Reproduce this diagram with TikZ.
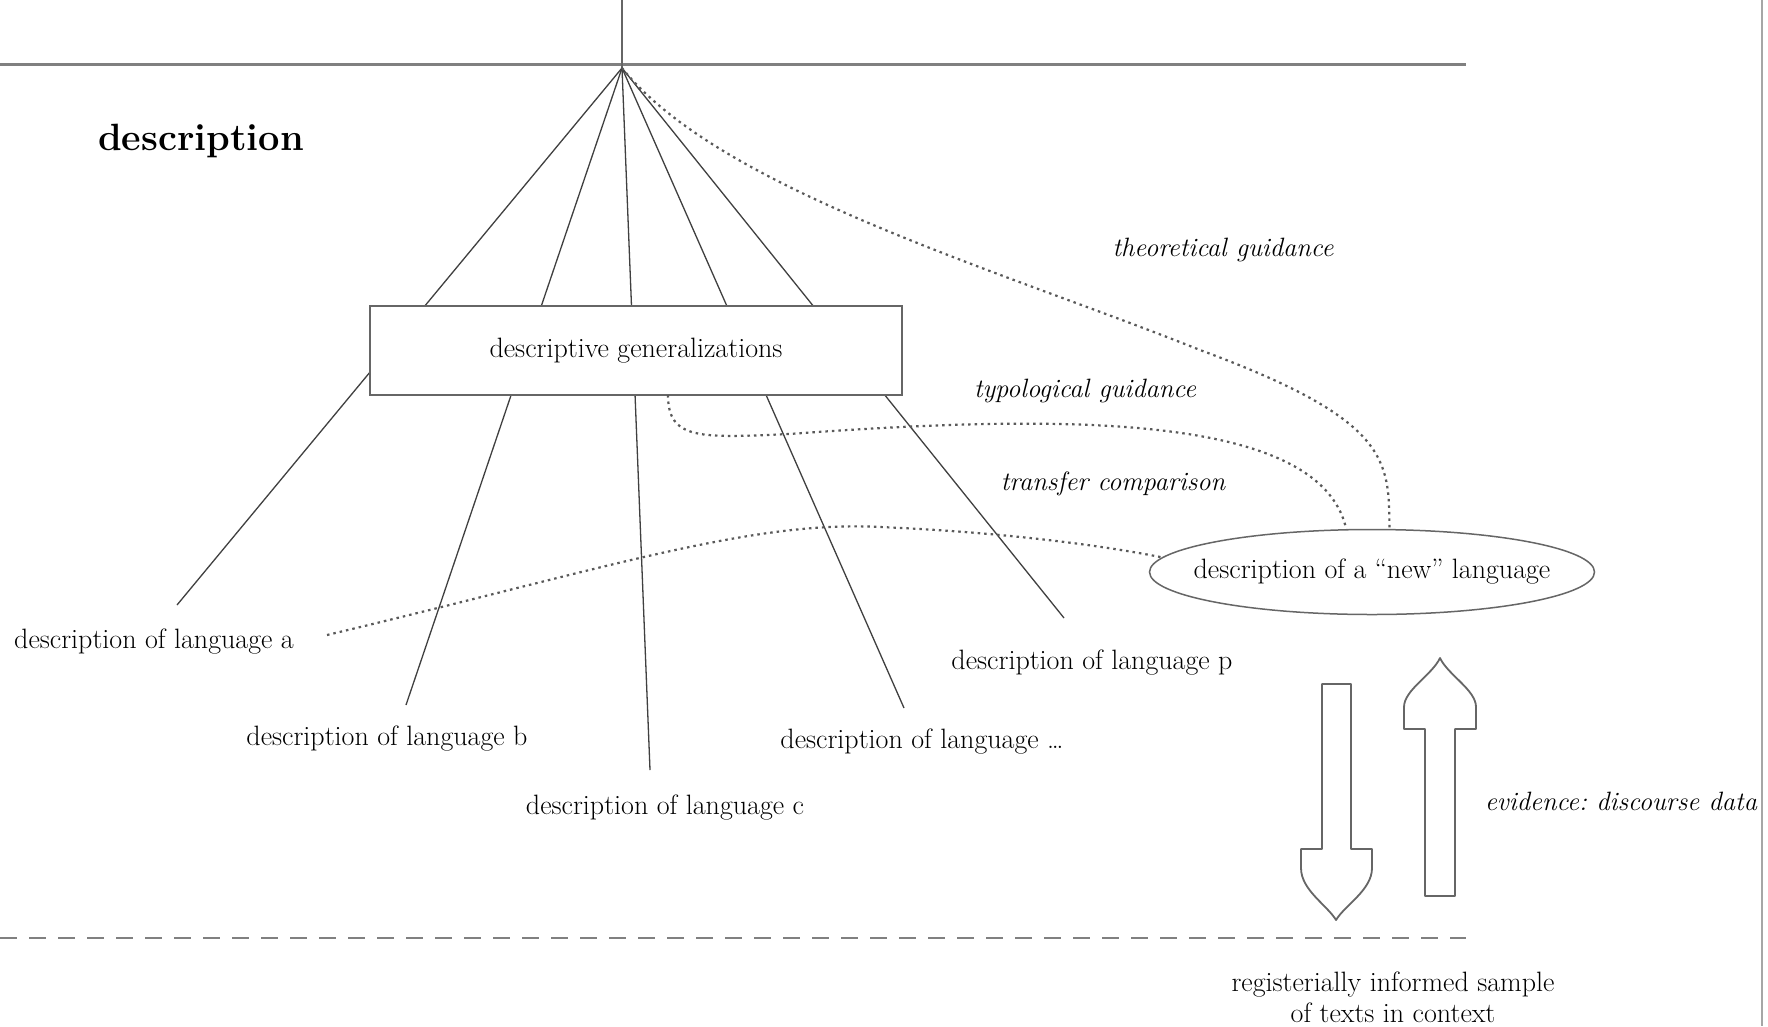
\documentclass[tikz,border=0pt]{standalone}
\usetikzlibrary{shapes.geometric}
\frenchspacing
\begin{document}
\begin{tikzpicture}[x=1pt,y=-1pt,
  lbl/.style={font=\fontsize{28}{31}\selectfont, inner sep=0pt},
  ilbl/.style={font=\fontsize{26.5}{30}\selectfont\itshape, inner sep=0pt},
  ray/.style={draw=black!75, line width=1.3pt},
  guide/.style={draw=black!65, line width=2.2pt, dash pattern=on 2.5pt off 4pt},
  fat/.style={draw=black!60, line width=1.8pt, fill=white, line join=round}]
\useasboundingbox (0,0) rectangle (1768,1026);
\fill[white] (0,0) rectangle (1768,1026);

% level lines and frame edge
\draw[black!50, line width=3pt] (0,64) -- (1466,64);
\draw[black!50, line width=2.5pt, dash pattern=on 17pt off 12pt] (0,938) -- (1466,938);
\draw[black!35, line width=2pt] (1762,0) -- (1762,1026);

% fan point
\coordinate (top) at (622,0);
\coordinate (apex) at (622,68);
\draw[black!60, line width=1.3pt] (top) -- (apex);

\node[font=\fontsize{38}{44}\selectfont\bfseries, inner sep=0pt] (desc) at (201,141) {description};

% language descriptions
\node[lbl] (la) at (154,642) {description of language a};
\node[lbl] (lb) at (387,739) {description of language b};
\node[lbl] (lc) at (665,808) {description of language c};
\node[lbl] (ld) at (922,742) {description of language \ldots};
\node[lbl] (lp) at (1092,663) {description of language p};

\coordinate (ea) at (177,605);
\coordinate (eb) at (406,705);
\coordinate (ec) at (650,770);
\coordinate (ed) at (904,708);
\coordinate (ep) at (1064,618);

\draw[ray] (apex) -- (ea);
\draw[ray] (apex) -- (eb);
\draw[ray] (apex) -- (ec);
\draw[ray] (apex) -- (ed);
\draw[ray] (apex) -- (ep);

% generalization box over the rays
\node[draw=black!60, line width=2pt, fill=white, minimum width=532pt,
      minimum height=89pt, lbl] (gen) at (636,350.5) {descriptive generalizations};

% the new language
\node[ellipse, draw=black!60, line width=1.5pt, minimum width=445pt,
      minimum height=85pt, inner sep=0pt] (new) at (1372,572) {};
\node[lbl] (newtxt) at (1372,572) {description of a ``new'' language};

% guidance curves
\draw[guide] (apex) .. controls (720,190) and (1000,270) .. (1200,350)
             .. controls (1390,420) and (1389,460) .. (new.68);
\coordinate (gs) at (668,395);
\draw[guide] (gs) .. controls (668,440) and (700,438) .. (789,434)
             .. controls (1050,415) and (1320,410) .. (new.121);
\coordinate (ts) at (327,635);
\draw[guide] (ts) .. controls (600,570) and (750,520) .. (880,527)
             .. controls (1000,532) and (1100,545) .. (new.176);

\node[ilbl] (theo) at (1223,250) {theoretical guidance};
\node[ilbl] (typo) at (1085,391) {typological guidance};
\node[ilbl] (trans) at (1113,484) {transfer comparison};
\node[ilbl] (evid) at (1621,801) {evidence: discourse data};

% block arrows between description and data
\draw[fat] (1322,684) -- (1351,684) -- (1351,849) -- (1372,849) -- (1372,868)
  .. controls (1372,890) and (1345,905) .. (1336,920)
  .. controls (1327,905) and (1301,890) .. (1301,868)
  -- (1301,849) -- (1322,849) -- cycle;
\draw[fat] (1440,658) .. controls (1448,675) and (1476,690) .. (1476,707)
  -- (1476,729) -- (1455,729) -- (1455,896) -- (1425,896) -- (1425,729)
  -- (1404,729) -- (1404,707) .. controls (1404,690) and (1432,675) .. (1440,658) -- cycle;

\node[lbl, align=center] (sample) at (1393,997) {registerially informed sample\\of texts in context};
\end{tikzpicture}
\end{document}
